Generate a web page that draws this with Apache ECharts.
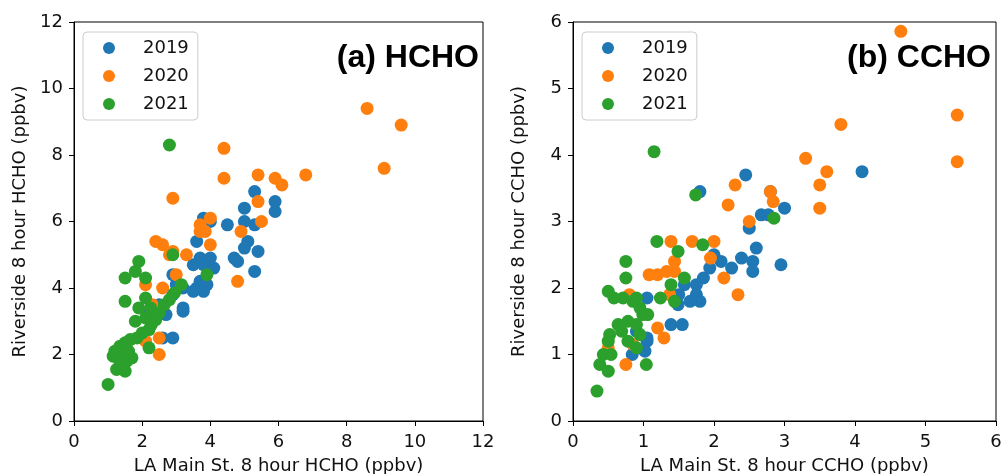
<!DOCTYPE html>
<html>
<head>
<meta charset="utf-8">
<title>Riverside vs LA Main St. 8 hour HCHO / CCHO</title>
<script src="https://cdn.jsdelivr.net/npm/echarts@6/dist/echarts.min.js"></script>
<style>
  html, body { margin: 0; padding: 0; background: #fff; }
  #chart { width: 1003px; height: 474px; }
</style>
</head>
<body>
<div id="chart"></div>
<script>
// Paired 8-hour means: [LA Main St., Riverside] in ppbv
const years = ['2019', '2020', '2021'];
const colors = ['#1f77b4', '#ff7f0e', '#2ca02c'];

const hcho2019 = [
  [5.3, 6.9], [5.9, 6.6], [5.9, 6.3], [5.0, 6.4], [5.0, 6.0], [5.3, 5.9], [4.5, 5.9],
  [4.0, 6.0], [3.8, 6.1], [3.6, 5.4], [5.1, 5.4], [5.0, 5.2], [5.4, 5.1], [4.7, 4.9],
  [4.8, 4.8], [5.3, 4.5], [3.5, 4.7], [3.7, 4.9], [4.0, 4.9], [4.1, 4.6], [3.8, 4.7],
  [2.9, 4.4], [2.9, 3.8], [3.2, 4.0], [3.5, 3.9], [3.8, 3.9], [3.7, 4.2], [3.2, 3.4],
  [3.2, 3.3], [2.7, 3.2], [2.6, 2.5], [2.9, 2.5], [3.0, 4.1], [2.5, 3.5], [2.2, 3.2],
  [3.9, 4.1], [3.6, 4.0]
];
const hcho2020 = [
  [8.6, 9.4], [9.6, 8.9], [9.1, 7.6], [4.4, 8.2], [4.4, 7.3], [5.4, 7.4], [5.9, 7.3],
  [6.1, 7.1], [6.8, 7.4], [2.9, 6.7], [5.4, 6.6], [5.5, 6.0], [4.0, 6.1], [3.7, 5.9],
  [3.7, 5.7], [3.85, 5.7], [4.9, 5.7], [2.4, 5.4], [2.6, 5.3], [2.9, 5.1], [4.0, 5.3],
  [3.3, 5.0], [2.8, 5.0], [3.0, 4.4], [2.1, 4.1], [2.6, 4.0], [4.8, 4.2], [2.3, 3.5],
  [2.1, 2.4], [2.5, 2.5], [2.5, 2.0]
];
const hcho2021 = [
  [2.8, 8.3], [2.9, 5.0], [3.9, 4.4], [1.9, 4.8], [1.8, 4.5], [1.5, 4.3], [2.1, 4.3],
  [1.5, 3.6], [2.1, 3.7], [1.9, 3.4], [2.25, 3.4], [1.8, 3.0], [3.15, 4.1], [2.95, 3.85],
  [2.8, 3.65], [2.65, 3.5], [2.5, 3.25], [2.4, 3.05], [2.27, 2.9], [2.2, 2.75], [2.0, 2.65],
  [1.85, 2.5], [1.65, 2.45], [1.5, 2.35], [1.35, 2.25], [1.2, 2.1], [1.15, 1.95], [1.45, 2.0],
  [1.7, 1.9], [1.35, 1.75], [1.25, 1.55], [1.5, 1.5], [2.2, 2.2], [1.0, 1.1], [1.6, 2.1],
  [2.1, 3.1], [1.3, 2.0], [1.55, 1.8]
];

const ccho2019 = [
  [4.1, 3.75], [2.45, 3.7], [1.8, 3.45], [3.0, 3.2], [2.67, 3.1], [2.77, 3.1], [2.5, 2.9],
  [2.6, 2.6], [2.0, 2.5], [2.39, 2.45], [2.55, 2.4], [2.55, 2.25], [2.95, 2.35], [2.1, 2.4],
  [2.25, 2.3], [1.94, 2.3], [1.85, 2.15], [1.75, 2.05], [1.58, 2.05], [1.75, 1.9], [1.8, 1.8],
  [1.66, 1.8], [1.49, 1.75], [1.05, 1.85], [1.39, 1.45], [1.55, 1.45], [1.05, 1.25],
  [1.05, 1.2], [1.02, 1.05], [0.84, 1.0], [2.8, 3.45], [1.5, 1.9], [0.9, 1.35]
];
const ccho2020 = [
  [4.65, 5.86], [5.45, 4.6], [5.45, 3.9], [3.8, 4.46], [3.3, 3.95], [3.6, 3.75], [3.5, 3.55],
  [3.5, 3.2], [2.3, 3.55], [2.2, 3.25], [2.8, 3.45], [2.84, 3.3], [2.5, 3.0], [1.39, 2.7],
  [1.69, 2.7], [2.0, 2.7], [1.95, 2.45], [1.44, 2.4], [1.08, 2.2], [1.2, 2.2], [1.33, 2.25],
  [1.44, 2.25], [2.14, 2.15], [2.34, 1.9], [1.37, 1.9], [1.2, 1.4], [1.29, 1.25], [0.75, 0.85],
  [0.85, 1.15], [0.5, 1.1], [0.8, 1.9]
];
const ccho2021 = [
  [1.15, 4.05], [1.74, 3.4], [2.85, 3.05], [1.19, 2.7], [1.84, 2.65], [1.49, 2.55], [0.75, 2.4],
  [0.75, 2.15], [1.58, 2.15], [1.39, 2.05], [0.5, 1.95], [0.58, 1.85], [0.71, 1.85], [0.9, 1.85],
  [1.24, 1.85], [1.44, 1.8], [0.95, 1.7], [0.99, 1.6], [1.06, 1.6], [0.78, 1.5], [0.64, 1.45],
  [0.9, 1.45], [0.69, 1.35], [0.5, 1.2], [0.78, 1.2], [0.9, 1.1], [0.43, 1.0], [0.54, 1.0],
  [0.38, 0.85], [0.5, 0.75], [1.04, 0.85], [0.34, 0.45], [0.52, 1.3], [0.85, 1.8], [0.95, 1.3]
];

const hchoTicks = [0, 2, 4, 6, 8, 10, 12];
const cchoTicks = [0, 1, 2, 3, 4, 5, 6];

const axisFont = 'DejaVu Sans';
const ink = '#111';

function valueAxis(gridIndex, ticks, name, isY) {
  return {
    type: 'value',
    gridIndex,
    min: ticks[0],
    max: ticks[ticks.length - 1],
    interval: ticks[1] - ticks[0],
    name,
    nameLocation: 'middle',
    nameGap: isY ? 45 : 36,
    nameRotate: isY ? 90 : 0,
    nameTextStyle: { fontFamily: axisFont, fontSize: 18, color: ink },
    axisLine: { show: true, onZero: false, lineStyle: { color: '#000', width: 1 } },
    axisTick: { show: true, inside: false, length: 5, lineStyle: { color: '#000', width: 1 } },
    axisLabel: { fontFamily: axisFont, fontSize: 18, color: ink, margin: isY ? 11 : 12 },
    splitLine: { show: false }
  };
}

// Framed legend: circle marker, then the year label further right
function legendFor(left) {
  return {
    data: years,
    orient: 'vertical',
    left,
    top: 32,
    icon: 'circle',
    itemWidth: 12,
    itemHeight: 12,
    itemGap: 10,
    padding: [7, 9, 7, 20],
    backgroundColor: 'rgba(255,255,255,0.8)',
    borderColor: '#cccccc',
    borderWidth: 1,
    borderRadius: 4,
    textStyle: { fontFamily: axisFont, fontSize: 18, color: ink, padding: [0, 0, 0, 23] }
  };
}

function scatter(name, data, idx, color) {
  return {
    type: 'scatter',
    name,
    data,
    xAxisIndex: idx,
    yAxisIndex: idx,
    symbolSize: 13,
    itemStyle: { color, opacity: 1 },
    emphasis: { disabled: true },
    animation: false
  };
}

function panelTitle(tag, species, right) {
  return {
    text: '{b|' + tag + '}{n| ' + species + '}',
    right,
    top: 42,
    padding: 0,
    textStyle: {
      rich: {
        b: { fontFamily: 'Liberation Sans', fontSize: 32, fontWeight: 'bold', color: '#000' },
        n: { fontFamily: 'Liberation Sans', fontSize: 32, color: '#000' }
      }
    }
  };
}

const hchoSets = [hcho2019, hcho2020, hcho2021];
const cchoSets = [ccho2019, ccho2020, ccho2021];

const gridBase = {
  top: 22, height: 399, show: true, borderColor: '#000', borderWidth: 1,
  backgroundColor: 'transparent', outerBoundsMode: 'none', containLabel: false
};

const option = {
  backgroundColor: '#fff',
  animation: false,
  title: [panelTitle('(a)', 'HCHO', 524), panelTitle('(b)', 'CCHO', 12)],
  legend: [legendFor(83), legendFor(582)],
  grid: [
    Object.assign({}, gridBase, { left: 74, width: 409 }),
    Object.assign({}, gridBase, { left: 573, width: 423 })
  ],
  xAxis: [
    valueAxis(0, hchoTicks, 'LA Main St. 8 hour HCHO (ppbv)', false),
    valueAxis(1, cchoTicks, 'LA Main St. 8 hour CCHO (ppbv)', false)
  ],
  yAxis: [
    valueAxis(0, hchoTicks, 'Riverside 8 hour HCHO (ppbv)', true),
    valueAxis(1, cchoTicks, 'Riverside 8 hour CCHO (ppbv)', true)
  ],
  series: [
    ...years.map((y, i) => scatter(y, hchoSets[i], 0, colors[i])),
    ...years.map((y, i) => scatter(y, cchoSets[i], 1, colors[i]))
  ]
};

const chart = echarts.init(document.getElementById('chart'), null, { renderer: 'canvas' });
chart.setOption(option);
</script>
</body>
</html>
